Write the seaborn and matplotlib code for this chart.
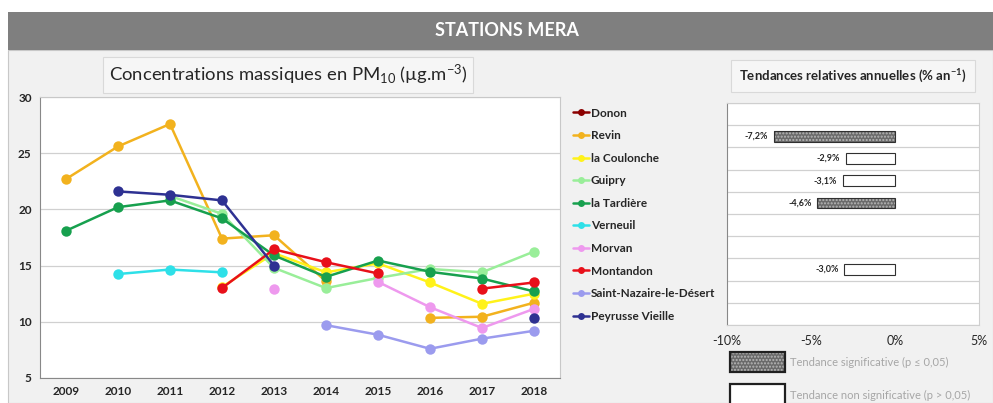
import numpy as np
import pandas as pd
import matplotlib.pyplot as plt
import seaborn as sns
from matplotlib.patches import Rectangle
from matplotlib.lines import Line2D

# Data
years = [2009, 2010, 2011, 2012, 2013, 2014, 2015, 2016, 2017, 2018]
stations = ["Donon", "Revin", "la Coulonche", "Guipry", "la Tardière", "Verneuil",
            "Morvan", "Montandon", "Saint-Nazaire-le-Désert", "Peyrusse Vieille"]
colors = ["#8B0000", "#F2B21E", "#FFF21A", "#99EE99", "#17A04E", "#2EE0E8",
          "#EE99EE", "#E8101A", "#9B9BEE", "#2E3192"]
nan = np.nan
donon = [nan] * 10
revin = [22.7, 25.6, 27.6, 17.4, 17.7, 13.6, nan, 10.35, 10.45, 11.7]
coulonche = [nan, nan, nan, 13.1, 16.1, 14.4, 15.2, 13.5, 11.6, 12.5]
guipry = [nan, nan, 21.2, 19.6, 14.8, 13.0, 13.9, 14.7, 14.4, 16.25]
tardiere = [18.1, 20.2, 20.8, 19.2, 15.9, 14.0, 15.45, 14.45, 13.85, 12.7]
verneuil = [nan, 14.25, 14.65, 14.4, nan, nan, nan, nan, nan, nan]
morvan = [nan, nan, nan, nan, 12.95, nan, 13.55, 11.3, 9.45, 11.15]
montandon = [nan, nan, nan, 13.0, 16.45, 15.3, 14.3, nan, 12.95, 13.5]
st_nazaire = [nan, nan, nan, nan, nan, 9.7, 8.85, 7.6, 8.5, 9.2]
peyrusse = [nan, 21.6, 21.3, 20.8, 15.0, nan, nan, nan, nan, 10.35]
series = [donon, revin, coulonche, guipry, tardiere, verneuil, morvan,
          montandon, st_nazaire, peyrusse]

trend = [nan, -7.2, -2.9, -3.1, -4.6, nan, nan, -3.0, nan, nan]
significant = [False, True, False, False, True, False, False, False, False, False]

# long-form table, one "seg" per unbroken run so gaps stay gaps
rows = []
for name, vals in zip(stations, series):
    seg = 0
    for i, v in enumerate(vals):
        if np.isnan(v):
            seg += 1
            continue
        rows.append({"station": name, "x": i, "value": v, "seg": f"{name}_{seg}"})
df = pd.DataFrame(rows)

sns.set_style("white")
plt.rcParams["font.family"] = ["Lato", "DejaVu Sans"]
plt.rcParams["mathtext.fontset"] = "custom"
plt.rcParams["mathtext.rm"] = "Lato"
plt.rcParams["mathtext.it"] = "Lato:italic"
plt.rcParams["mathtext.bf"] = "Lato:bold"

fig = plt.figure(figsize=(9.93, 4.03), dpi=100)
W, H = 993, 403

def fx(px):
    return px / W

def fy(py):
    return 1 - py / H

# background panel + header bar
fig.patches.append(Rectangle((fx(8), 0), 1 - fx(8), fy(50), transform=fig.transFigure,
                             facecolor="#f1f1f1", edgecolor="#c8c8c8", lw=0.8, zorder=-5))
fig.patches.append(Rectangle((fx(8), fy(50)), 1 - fx(8), 38 / H, transform=fig.transFigure,
                             facecolor="#7f7f7f", edgecolor="none", zorder=-4))
fig.text(fx(507), fy(31), "STATIONS MERA", color="white", fontsize=13, fontweight="bold",
         ha="center", va="center")

# title boxes
fig.text(fx(288), fy(75),
         r"Concentrations massiques en PM$_{\mathregular{10}}$ (µg.m$^{\mathregular{-3}}$)",
         fontsize=13.3, ha="center", va="center",
         bbox=dict(boxstyle="square,pad=0.3", facecolor="#f6f6f6", edgecolor="#d9d9d9", lw=0.8))
fig.text(fx(853), fy(76),
         r"Tendances relatives annuelles (% an$^{\mathregular{-1}}$)",
         fontsize=9.5, fontweight="bold", ha="center", va="center",
         bbox=dict(boxstyle="square,pad=0.6", facecolor="#f6f6f6", edgecolor="#d9d9d9", lw=0.8))

# ---- line chart ----
ax = fig.add_axes([fx(40), fy(378), fx(520), (378 - 97) / H])
ax.set_facecolor("white")
pal = dict(zip(stations, colors))
sns.lineplot(data=df, x="x", y="value", hue="station", units="seg", estimator=None,
             palette=pal, hue_order=stations, marker="o", markersize=7.5, markeredgewidth=0,
             linewidth=1.8, sort=True, legend=False, ax=ax)
ax.set_xlim(-0.5, 9.5)
ax.set_ylim(5, 30)
ax.set_yticks([5, 10, 15, 20, 25, 30])
ax.set_yticklabels([str(v) for v in [5, 10, 15, 20, 25, 30]], fontsize=8.5, fontweight="bold")
ax.set_xticks(np.arange(-0.5, 10, 1))
ax.set_xticklabels([])
ax.set_xticks(np.arange(10), minor=True)
ax.set_xticklabels([str(y) for y in years], minor=True, fontsize=8.5, fontweight="bold")
ax.tick_params(axis="x", which="major", length=4, color="#888888", direction="out")
ax.tick_params(axis="x", which="minor", length=0, pad=6)
ax.tick_params(axis="y", length=4, color="#888888", direction="out", pad=2)
ax.yaxis.grid(True, color="#d0d0d0", lw=0.9)
ax.set_axisbelow(True)
ax.set_xlabel("")
ax.set_ylabel("")
for s in ax.spines.values():
    s.set_color("#c8c8c8")
ax.spines["left"].set_color("#888888")
ax.spines["bottom"].set_color("#888888")

handles = [Line2D([0], [0], color=c, marker="o", markersize=5, lw=1.8, markeredgewidth=0)
           for c in colors]
leg = ax.legend(handles, stations, loc="upper left", bbox_to_anchor=(1.005, 1.0),
                frameon=False, handlelength=1.3, handletextpad=0.2, labelspacing=0.98,
                prop={"weight": "bold", "size": 8.5})

# ---- trend bar chart ----
ax2 = fig.add_axes([fx(726.7), fy(325), fx(252), (325 - 103) / H])
ax2.set_facecolor("white")
tdf = pd.DataFrame({"station": stations, "trend": trend}).dropna()
sns.barplot(data=tdf, x="trend", y="station", order=stations, orient="h", width=0.48,
            color="white", ax=ax2)
for p in ax2.patches:
    idx = int(round(p.get_y() + p.get_height() / 2))
    if significant[idx]:
        p.set_facecolor("#6a6a6a")
        p.set_edgecolor("#b8b8b8")
        p.set_hatch(".....")
        p.set_linewidth(0)
        ax2.add_patch(Rectangle((p.get_x(), p.get_y()), p.get_width(), p.get_height(),
                                fill=False, edgecolor="#303030", lw=0.8))
    else:
        p.set_facecolor("white")
        p.set_edgecolor("#303030")
        p.set_linewidth(0.8)
for i, v in enumerate(trend):
    if not np.isnan(v):
        ax2.text(v - 0.35, i, f"{v:.1f}%".replace(".", ","), ha="right", va="center",
                 fontsize=6.5, fontweight="bold")
ax2.set_xlim(-10, 5)
ax2.set_ylim(9.5, -0.5)
ax2.set_xticks([-10, -5, 0, 5])
ax2.set_xticklabels(["-10%", "-5%", "0%", "5%"], fontsize=9)
ax2.set_yticks(np.arange(-0.5, 10, 1))
ax2.set_yticklabels([])
ax2.tick_params(axis="y", length=0)
ax2.tick_params(axis="x", length=4, color="#888888", pad=3)
ax2.yaxis.grid(True, color="#d0d0d0", lw=0.9)
ax2.set_axisbelow(True)
ax2.set_xlabel("")
ax2.set_ylabel("")
for s in ax2.spines.values():
    s.set_color("#cfcfcf")
ax2.spines["left"].set_color("#888888")

# significance legend
fig.patches.append(Rectangle((fx(730), fy(372)), fx(55), 20 / H, transform=fig.transFigure,
                             facecolor="#6a6a6a", edgecolor="#b8b8b8", hatch=".....", lw=0))
fig.patches.append(Rectangle((fx(730), fy(372)), fx(55), 20 / H, transform=fig.transFigure,
                             fill=False, edgecolor="#202020", lw=1.6))
fig.patches.append(Rectangle((fx(730), fy(405)), fx(55), 21 / H, transform=fig.transFigure,
                             facecolor="white", edgecolor="#202020", lw=1.6))
fig.text(fx(790), fy(362), "Tendance significative (p ≤ 0,05)", color="#a6a6a6",
         fontsize=8, va="center")
fig.text(fx(790), fy(395), "Tendance non significative (p > 0,05)", color="#a6a6a6",
         fontsize=8, va="center")

fig.savefig("out.png", dpi=100)
